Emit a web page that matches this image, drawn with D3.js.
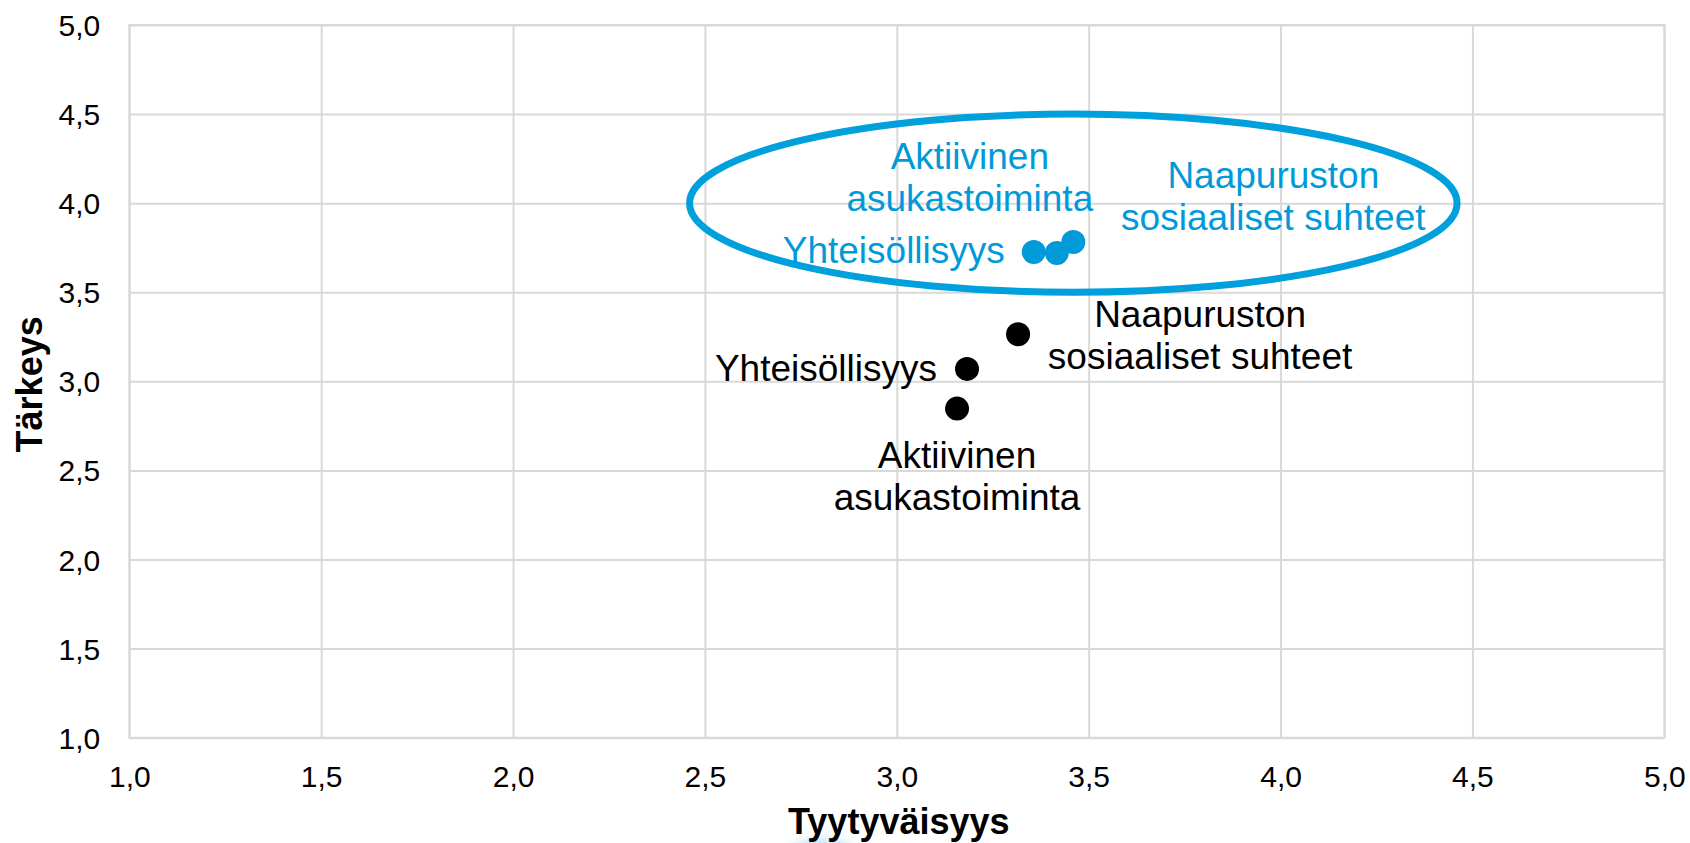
<!DOCTYPE html>
<html>
<head>
<meta charset="utf-8">
<script src="https://cdn.jsdelivr.net/npm/d3@7"></script>
<style>
  html, body { margin: 0; padding: 0; background: #fff; }
  svg { display: block; font-family: "Liberation Sans", Arial, sans-serif; }
</style>
</head>
<body>
<svg id="chart" width="1690" height="843"></svg>
<script>
// data
const categories = ["Aktiivinen asukastoiminta", "Yhteisöllisyys", "Naapuruston sosiaaliset suhteet"];
const labelLines = [["Aktiivinen", "asukastoiminta"], ["Yhteisöllisyys"], ["Naapuruston", "sosiaaliset suhteet"]];
// black series
const satisfactionA = [3.157, 3.183, 3.316];
const importanceA = [2.847, 3.070, 3.264];
// blue series (circled)
const satisfactionB = [3.417, 3.357, 3.460];
const importanceB = [3.720, 3.726, 3.782];
const tickValues = [1, 1.5, 2, 2.5, 3, 3.5, 4, 4.5, 5];
const ellipseCenter = [3.46, 4.0];
const ellipseRadii = [1.0, 0.5];

const W = 1690, H = 843;
const plot = { left: 129.3, right: 1664.3, top: 25, bottom: 737.7 };
const black = "#000000", blue = "#009ad9", ring = "#00a0dc", grid = "#d9d9d9";

// label placement relative to each point (pixels)
const layoutA = [
  { anchor: "middle", dx: 0, dy: 59 },
  { anchor: "end", dx: -30, dy: 12 },
  { anchor: "middle", dx: 182, dy: -7 }
];
const layoutB = [
  { anchor: "middle", dx: -87, dy: -84 },
  { anchor: "end", dx: -29, dy: 11 },
  { anchor: "middle", dx: 200, dy: -54 }
];

const fi = d3.formatLocale({ decimal: ",", thousands: " ", grouping: [3], currency: ["", "€"] });
const fmt = fi.format(".1f");

const svg = d3.select("#chart");
const x = d3.scaleLinear().domain([1, 5]).range([plot.left, plot.right]);
const y = d3.scaleLinear().domain([1, 5]).range([plot.bottom, plot.top]);

// faint blue glow at the bottom edge (part of the original slide)
const defs = svg.append("defs");
defs.append("filter").attr("id", "blur").attr("x", "-50%").attr("y", "-50%").attr("width", "200%").attr("height", "200%")
  .append("feGaussianBlur").attr("stdDeviation", 5);
svg.append("ellipse").attr("cx", 822).attr("cy", 870).attr("rx", 44).attr("ry", 32)
  .attr("fill", "#c6e6f6").attr("filter", "url(#blur)");

// gridlines
const gx = svg.append("g")
  .attr("transform", `translate(0,${plot.bottom})`)
  .call(d3.axisBottom(x).tickValues(tickValues).tickSize(-(plot.bottom - plot.top)).tickFormat(fmt).tickPadding(28));
const gy = svg.append("g")
  .attr("transform", `translate(${plot.left},0)`)
  .call(d3.axisLeft(y).tickValues(tickValues).tickSize(-(plot.right - plot.left)).tickFormat(fmt).tickPadding(29));

[gx, gy].forEach(g => {
  g.select(".domain").remove();
  g.selectAll(".tick line").attr("stroke", grid).attr("stroke-width", 2);
  g.selectAll(".tick text").attr("fill", "#000").attr("font-size", 30)
    .attr("font-family", "Liberation Sans, Arial, sans-serif");
});
gy.selectAll(".tick text").attr("dy", "0.35em");

// plot border
svg.append("rect").attr("x", plot.left).attr("y", plot.top)
  .attr("width", plot.right - plot.left).attr("height", plot.bottom - plot.top)
  .attr("fill", "none").attr("stroke", grid).attr("stroke-width", 2);

// axis titles
svg.append("text").attr("x", (plot.left + plot.right) / 2 + 2).attr("y", 834)
  .attr("text-anchor", "middle").attr("font-size", 36).attr("font-weight", "bold").text("Tyytyväisyys");
svg.append("text").attr("transform", `translate(42,${(plot.top + plot.bottom) / 2 + 3}) rotate(-90)`)
  .attr("text-anchor", "middle").attr("font-size", 36).attr("font-weight", "bold").text("Tärkeys");

// ellipse round the blue group
svg.append("ellipse")
  .attr("cx", x(ellipseCenter[0])).attr("cy", y(ellipseCenter[1]))
  .attr("rx", x(ellipseCenter[0] + ellipseRadii[0]) - x(ellipseCenter[0]))
  .attr("ry", y(ellipseCenter[1] - ellipseRadii[1]) - y(ellipseCenter[1]))
  .attr("fill", "none").attr("stroke", ring).attr("stroke-width", 7);

function series(xs, ys, layout, color) {
  const pts = categories.map((c, i) => ({ c, i, x: xs[i], y: ys[i] }));
  const g = svg.append("g");
  g.selectAll("circle").data(pts).join("circle")
    .attr("cx", d => x(d.x)).attr("cy", d => y(d.y)).attr("r", 12).attr("fill", color);
  g.selectAll("text").data(pts).join("text")
    .attr("font-size", 37).attr("fill", color)
    .attr("text-anchor", d => layout[d.i].anchor)
    .each(function (d) {
      const t = d3.select(this);
      const px = x(d.x) + layout[d.i].dx;
      labelLines[d.i].forEach((line, k) => {
        t.append("tspan").attr("x", px).attr("y", y(d.y) + layout[d.i].dy + k * 42).text(line);
      });
    });
}

series(satisfactionA, importanceA, layoutA, black);
series(satisfactionB, importanceB, layoutB, blue);
</script>
</body>
</html>
